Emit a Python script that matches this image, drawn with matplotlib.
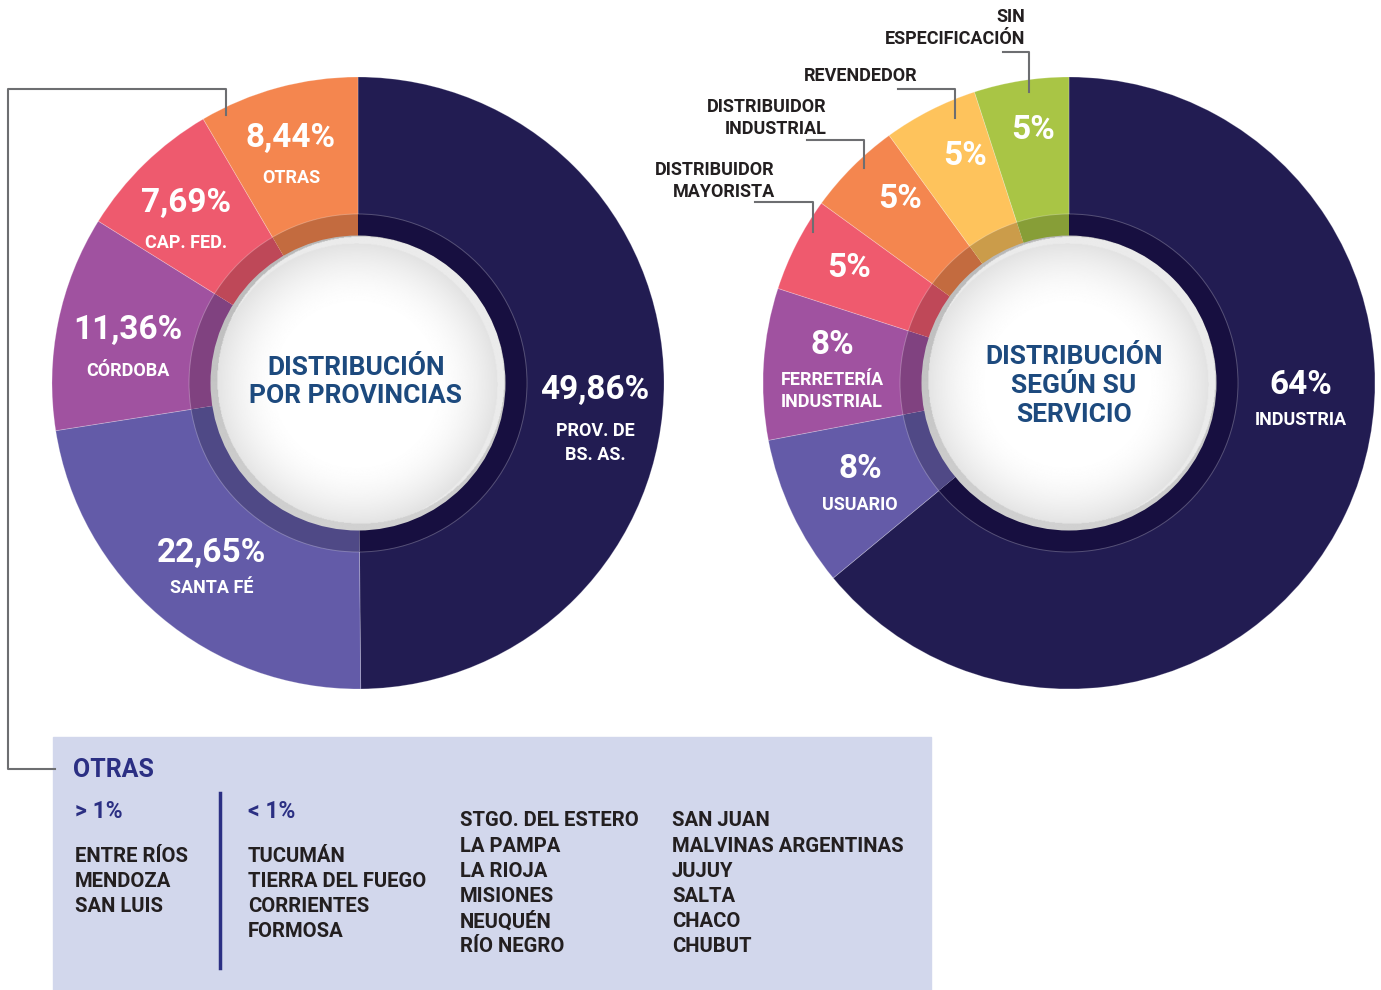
import numpy as np
import matplotlib.pyplot as plt
from matplotlib.patches import Circle, Rectangle
from matplotlib.colors import to_rgb

# --- data ---
prov_names = ['PROV. DE\nBS. AS.', 'SANTA FÉ', 'CÓRDOBA', 'CAP. FED.', 'OTRAS']
prov_values = [49.86, 22.65, 11.36, 7.69, 8.44]
prov_colors = ['#221c52', '#635ba8', '#a052a0', '#ee5a6e', '#f4864f']

serv_names = ['INDUSTRIA', 'USUARIO', 'FERRETERÍA\nINDUSTRIAL', 'DISTRIBUIDOR\nMAYORISTA',
              'DISTRIBUIDOR\nINDUSTRIAL', 'REVENDEDOR', 'SIN\nESPECIFICACIÓN']
serv_values = [64, 8, 8, 5, 5, 5, 5]
serv_colors = ['#221c52', '#645ba8', '#a052a0', '#ef5a6e', '#f4864f', '#fec35c', '#a9c545']

otras_mas = ['ENTRE RÍOS', 'MENDOZA', 'SAN LUIS']
otras_menos_a = ['TUCUMÁN', 'TIERRA DEL FUEGO', 'CORRIENTES', 'FORMOSA']
otras_menos_b = ['STGO. DEL ESTERO', 'LA PAMPA', 'LA RIOJA', 'MISIONES', 'NEUQUÉN', 'RÍO NEGRO']
otras_menos_c = ['SAN JUAN', 'MALVINAS ARGENTINAS', 'JUJUY', 'SALTA', 'CHACO', 'CHUBUT']

W, H = 1381, 990
FONT = 'Roboto'
DARK = '#231f20'
TITLE = '#1d4a7e'
BLUE = '#2b2f83'
GREY = '#6d6e71'

def Y(y):  return H - y

def darker(c, f=0.8):
    return tuple(v * f for v in to_rgb(c))

fig = plt.figure(figsize=(W / 100, H / 100), dpi=100)
ax = fig.add_axes([0, 0, 1, 1])

def donut(cx, cy, values, colors):
    c = (cx, Y(cy))
    ax.pie(values, colors=colors, startangle=90, counterclock=False, radius=306,
           center=c, frame=True,
           wedgeprops=dict(width=306 - 168, edgecolor=(1, 1, 1, 0.25), linewidth=0.6))
    ring = [darker(col) for col in colors]
    ring[0] = '#170f40'
    ax.pie(values, colors=ring, startangle=90, counterclock=False, radius=169,
           center=c, frame=True, wedgeprops=dict(width=24, edgecolor='none'))
    ax.add_patch(Circle(c, 169, fill=False, ec=(1, 1, 1, 0.25), lw=0.7, zorder=3))
    # white disc with soft radial shading
    n = 400
    g = np.linspace(-1, 1, n)
    xx, yy = np.meshgrid(g, g)
    r = np.hypot(xx + 0.01, yy - 0.01)
    v = 1 - 0.12 * np.clip((r - 0.5) / 0.47, 0, 1) ** 1.8
    rim = np.hypot(xx - 0.02, yy + 0.02)
    v = np.where(rim > 0.972, 0.72 + 0.1 * np.clip((yy + 1) / 2, 0, 1), v)
    v = np.where((r > 0.955) & (rim <= 0.972), 0.92, v)
    im = ax.imshow(v, cmap='gray', vmin=0, vmax=1, extent=(cx - 148, cx + 148, Y(cy) - 148, Y(cy) + 148),
                   zorder=4, interpolation='bilinear')
    clip = Circle(c, 147.5, transform=ax.transData)
    im.set_clip_path(clip)

donut(358, 383, prov_values, prov_colors)
donut(1069, 383, serv_values, serv_colors)

# --- labels, left ---
prov_pct_pos = [(595, 390), (212, 553), (128, 330), (186, 203), (291, 138)]
prov_name_pos = [(595, 443), (212, 588), (128, 371), (186, 243), (291, 178)]
for v, name, p, q in zip(prov_values, prov_names, prov_pct_pos, prov_name_pos):
    ax.text(p[0], Y(p[1]), f'{v:.2f}'.replace('.', ',') + '%', color='white', fontsize=24,
            fontweight='bold', family=FONT, ha='center', va='center', zorder=6)
    ax.text(q[0], Y(q[1]), name, color='white', fontsize=13, fontweight='bold', family=FONT,
            ha='center', va='center', linespacing=1.5, zorder=6)

ax.text(356, Y(382), 'DISTRIBUCIÓN\nPOR PROVINCIAS', color=TITLE, fontsize=19, fontweight='bold',
        family=FONT, ha='center', va='center', linespacing=1.25, zorder=6)

# --- labels, right ---
serv_pct_pos = [(1301, 385), (860, 469), (832, 345), (849, 268), (900, 199), (965, 156), (1033, 130)]
serv_name_pos = [(1301, 420), (860, 505), (832, 391)]
for i, (v, p) in enumerate(zip(serv_values, serv_pct_pos)):
    ax.text(p[0], Y(p[1]), f'{v}%', color='white', fontsize=24, fontweight='bold', family=FONT,
            ha='center', va='center', zorder=6)
for name, q in zip(serv_names[:3], serv_name_pos):
    ax.text(q[0], Y(q[1]), name, color='white', fontsize=13, fontweight='bold', family=FONT,
            ha='center', va='center', linespacing=1.3, zorder=6)

ax.text(1074, Y(386), 'DISTRIBUCIÓN\nSEGÚN SU\nSERVICIO', color=TITLE, fontsize=19, fontweight='bold',
        family=FONT, ha='center', va='center', linespacing=1.25, zorder=6)

# callouts for small slices
call_text = [(775, 181), (827, 118), (918, 76), (1025, 28)]
call_line = [[(755, 202), (813, 202), (813, 232)],
             [(807, 140), (864, 140), (864, 168)],
             [(898, 89), (955, 89), (955, 118)],
             [(1003, 52), (1029, 52), (1029, 92)]]
for name, t, ln in zip(serv_names[3:], call_text, call_line):
    ax.text(t[0], Y(t[1]), name, color=DARK, fontsize=13, fontweight='bold', family=FONT,
            ha='right', va='center', linespacing=1.3, zorder=6)
    xs, ys = zip(*ln)
    ax.plot(xs, [Y(y) for y in ys], color=GREY, lw=1.5, zorder=5)

# --- OTRAS box ---
ax.add_patch(Rectangle((53, 0), 931 - 53, Y(737), color='#d2d7ec', zorder=1))
ax.plot([226, 226, 8, 8, 55], [Y(115), Y(89), Y(89), Y(769), Y(769)], color=GREY, lw=1.5, zorder=5)
ax.plot([220, 220], [Y(793), Y(968)], color=BLUE, lw=2.5, zorder=2)
ax.text(73, Y(770), 'OTRAS', color=BLUE, fontsize=18, fontweight='bold', family=FONT,
        ha='left', va='center', zorder=6)
ax.text(75, Y(811), '> 1%', color=BLUE, fontsize=16.5, fontweight='bold', family=FONT,
        ha='left', va='center', zorder=6)
ax.text(248, Y(811), '< 1%', color=BLUE, fontsize=16.5, fontweight='bold', family=FONT,
        ha='left', va='center', zorder=6)

cols = [(75, 856, otras_mas), (248, 856, otras_menos_a), (460, 821, otras_menos_b), (672, 821, otras_menos_c)]
for x0, y0, items in cols:
    for i, s in enumerate(items):
        ax.text(x0, Y(y0 + i * 25.2), s, color=DARK, fontsize=14.6, fontweight='bold', family=FONT,
                ha='left', va='center', zorder=6)

ax.set_xlim(0, W)
ax.set_ylim(0, H)
ax.set_aspect('auto')
ax.axis('off')
fig.savefig('out.png', dpi=100)
